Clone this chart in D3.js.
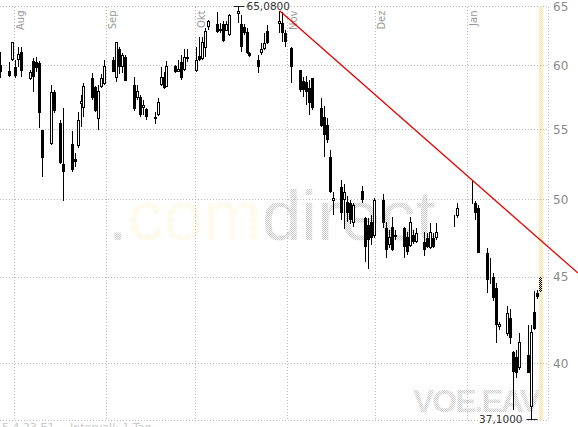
<!DOCTYPE html>
<html><head><meta charset="utf-8">
<script src="https://cdn.jsdelivr.net/npm/d3@7"></script>
<style>html,body{margin:0;padding:0;background:#fff;overflow:hidden}</style>
</head><body><svg id="c" width="578" height="427"></svg>
<script>
const dates = [
"2007-07-27","2007-07-30","2007-07-31","2007-08-01","2007-08-02","2007-08-03","2007-08-06","2007-08-07","2007-08-08","2007-08-09","2007-08-10","2007-08-13","2007-08-14","2007-08-16","2007-08-17","2007-08-20","2007-08-21","2007-08-22","2007-08-23","2007-08-24","2007-08-27","2007-08-28","2007-08-29","2007-08-30","2007-08-31",
"2007-09-03","2007-09-04","2007-09-05","2007-09-06","2007-09-07","2007-09-10","2007-09-11","2007-09-12","2007-09-13","2007-09-14","2007-09-17","2007-09-18","2007-09-19","2007-09-20","2007-09-21","2007-09-24","2007-09-25","2007-09-26","2007-09-27","2007-09-28",
"2007-10-01","2007-10-02","2007-10-03","2007-10-04","2007-10-05","2007-10-08","2007-10-09","2007-10-10","2007-10-11","2007-10-12","2007-10-15","2007-10-16","2007-10-17","2007-10-18","2007-10-19","2007-10-22","2007-10-23","2007-10-24","2007-10-25","2007-10-29","2007-10-30","2007-10-31",
"2007-11-02","2007-11-05","2007-11-06","2007-11-07","2007-11-08","2007-11-09","2007-11-12","2007-11-13","2007-11-14","2007-11-15","2007-11-16","2007-11-19","2007-11-20","2007-11-21","2007-11-22","2007-11-23","2007-11-26","2007-11-27","2007-11-28","2007-11-29","2007-11-30",
"2007-12-03","2007-12-04","2007-12-05","2007-12-06","2007-12-07","2007-12-10","2007-12-11","2007-12-12","2007-12-13","2007-12-14","2007-12-17","2007-12-18","2007-12-19","2007-12-20","2007-12-21","2007-12-27","2007-12-28",
"2008-01-02","2008-01-03","2008-01-04","2008-01-07","2008-01-08","2008-01-09","2008-01-10","2008-01-11","2008-01-14","2008-01-15","2008-01-16","2008-01-17","2008-01-18","2008-01-21","2008-01-22","2008-01-23","2008-01-24","2008-01-25"];

const open = [
60.05,59.58,60.43,59.90,60.43,61.13,58.91,60.37,60.30,60.20,54.96,53.90,57.86,55.46,52.45,53.90,52.81,53.78,56.92,56.61,58.99,58.28,55.76,58.25,58.51,
60.43,58.97,61.34,59.92,60.74,58.44,57.38,57.51,56.61,56.56,55.97,56.10,58.40,59.09,58.30,59.96,59.48,60.29,59.64,60.72,
59.56,60.78,60.57,61.42,63.20,63.48,62.91,63.48,62.91,62.54,64.36,63.48,63.20,62.77,61.04,60.45,61.06,61.34,62.91,63.48,63.54,62.69,
61.48,59.64,58.75,58.69,58.17,58.97,56.61,55.97,55.33,52.99,49.92,50.88,49.97,49.85,49.79,48.46,50.58,48.74,48.30,48.50,47.58,
49.97,48.08,47.00,48.19,47.64,48.08,47.54,46.94,47.64,47.21,47.21,47.43,46.79,47.43,47.43,48.63,48.90,
49.85,49.74,49.41,46.48,45.45,45.02,44.32,42.02,41.62,42.57,40.66,40.38,39.74,40.48,37.72,42.93,44.06,44.93];

const high = [
61.14,60.31,61.99,60.43,61.53,61.57,59.64,60.65,60.70,60.41,54.96,58.44,58.04,55.71,56.63,54.89,53.24,56.35,57.64,58.62,59.37,58.35,58.44,59.32,60.43,
60.74,61.99,61.56,61.04,60.90,59.07,58.44,57.64,57.25,56.63,56.35,57.43,59.90,59.48,60.37,60.05,60.45,60.86,61.34,61.36,
61.53,62.35,62.35,63.14,63.83,64.56,63.57,63.74,63.77,64.36,65.08,64.27,63.48,63.11,61.12,60.86,61.90,62.69,63.40,64.65,64.56,62.97,
61.56,59.64,59.09,59.15,58.83,58.97,57.38,56.78,55.86,53.48,50.49,51.34,51.06,50.23,49.97,49.77,50.93,48.84,48.76,48.96,50.10,
50.38,48.50,47.97,48.85,47.97,48.19,47.84,48.85,47.97,48.08,47.86,47.77,48.41,47.77,48.41,48.96,49.77,
51.34,49.90,49.63,46.79,46.20,45.23,44.65,42.32,43.25,43.07,40.70,40.75,41.70,42.15,42.15,44.18,44.22,45.06];

const low = [
58.97,59.05,60.37,58.99,59.90,59.11,58.83,57.91,59.50,55.11,51.55,53.85,56.25,52.45,49.89,51.93,52.28,53.63,55.17,55.92,57.25,56.33,54.96,58.20,58.47,
59.44,58.70,59.32,59.37,58.75,56.40,57.25,55.94,56.10,55.71,55.41,56.06,58.36,58.09,58.24,59.40,59.44,58.83,59.56,60.29,
59.50,60.37,60.43,60.70,62.97,62.69,62.71,61.98,62.88,62.50,63.54,61.12,62.54,60.98,60.74,59.42,60.86,61.28,61.79,62.71,61.98,61.51,
58.56,57.88,57.51,56.86,56.10,56.48,55.19,52.99,54.00,50.46,48.96,48.63,48.02,48.52,48.37,48.19,49.77,45.94,45.48,47.00,47.45,
48.10,46.17,46.81,46.63,47.32,46.17,46.38,46.88,47.07,47.13,46.31,46.81,46.75,46.81,47.32,48.17,48.74,
49.70,48.63,46.48,44.02,44.60,43.56,41.16,41.87,41.52,41.08,37.55,39.21,39.65,39.49,37.10,41.87,43.68,44.04];

const close = [
59.50,59.18,61.93,59.19,60.97,59.60,59.50,59.11,59.80,56.25,52.90,57.86,56.43,52.52,51.93,52.05,52.64,55.71,57.17,58.35,57.41,56.44,57.96,58.97,59.96,
59.48,61.95,59.90,60.86,58.79,56.56,57.96,56.10,56.86,55.92,55.76,57.07,59.09,58.20,59.96,59.44,59.72,58.99,60.74,60.51,
60.45,60.45,61.98,62.91,63.77,62.77,63.06,62.06,63.48,64.27,64.65,61.56,62.69,61.04,60.82,59.86,61.34,61.90,61.85,63.77,62.71,61.98,
59.90,58.04,58.04,57.91,56.99,56.61,55.26,54.59,54.22,50.53,50.08,49.08,50.53,49.08,48.63,49.63,49.95,46.86,47.32,47.45,49.97,
48.41,46.69,47.54,46.69,47.54,46.90,46.58,48.52,47.21,47.76,46.69,46.90,47.86,46.90,47.86,48.56,49.41,
49.74,49.08,46.48,44.83,45.40,43.72,42.15,42.19,42.83,41.43,39.56,39.47,41.21,39.51,41.74,41.96,43.82,44.12];

const yTicks = [40, 45, 50, 55, 60, 65];
const monthLabels = ["Aug", "Sep", "Okt", "Nov", "Dez", "Jan"];
const trendDates = ["2007-10-29", "2008-01-02"];
const trendValues = [64.65, 51.34];
const extremeDates = ["2007-10-15", "2008-01-22"];
const extremeValues = [65.08, 37.10];
const extremeLabels = ["65,0800", "37,1000"];
const lastDate = "2008-01-25";
const symbolText = "VOE.EAV";
const footerText = "5.4.23 E1";
const footerText2 = "Intervall: 1 Tag";

const svg = d3.select("#c");
const parse = d3.utcParse("%Y-%m-%d");
const DAY = 864e5;
const x = d3.scaleUtc().domain([Date.UTC(2007,7,1), Date.UTC(2008,0,1)]).range([14.3, 467.9]);
const y = d3.scaleLog().domain([37.0, 65.6]).range([421, 0]);
const plotR = 548, plotB = 420.5;
const cx = d => Math.floor(x(+parse(d) + DAY/2));

// patterns
const defs = svg.append("defs");
function checker(id, color) {
  const p = defs.append("pattern").attr("id", id).attr("width", 2).attr("height", 2).attr("patternUnits", "userSpaceOnUse");
  p.append("rect").attr("x",0).attr("y",0).attr("width",1).attr("height",1).attr("fill",color);
  p.append("rect").attr("x",1).attr("y",1).attr("width",1).attr("height",1).attr("fill",color);
}
checker("pg", "#c8c8c8");
checker("py", "#fef7dc");
checker("pb", "#f9df8e");

// watermark
const wm = svg.append("text").attr("x", 108).attr("y", 240)
  .attr("font-family", "Liberation Sans, Arial, sans-serif").attr("font-size", 71);
wm.append("tspan").attr("fill", "url(#pg)").text(".");
wm.append("tspan").attr("fill", "url(#py)").text("com");
wm.append("tspan").attr("fill", "url(#pg)").text("direct");

svg.append("text").attr("x", 413).attr("y", 411.5)
  .attr("font-family", "Liberation Sans, Arial, sans-serif").attr("font-size", 32).attr("font-weight", "bold")
  .attr("letter-spacing", -2).attr("fill", "url(#pg)").text(symbolText);

// grid
const g = svg.append("g").attr("stroke", "#b8b8b8").attr("stroke-dasharray", "1,2").attr("stroke-width", 1).attr("fill", "none");
yTicks.forEach(t => {
  const yy = Math.floor(y(t)) + 0.5;
  g.append("line").attr("x1", 0).attr("x2", plotR).attr("y1", yy).attr("y2", yy);
});
g.append("line").attr("x1", 0).attr("x2", plotR).attr("y1", plotB).attr("y2", plotB);
const months = d3.utcMonth.range(Date.UTC(2007,7,1), Date.UTC(2008,1,1));
months.forEach(m => {
  const xx = Math.floor(x(m)) + 0.5;
  g.append("line").attr("x1", xx).attr("x2", xx).attr("y1", 7).attr("y2", plotB);
});
g.append("line").attr("x1", plotR + 0.5).attr("x2", plotR + 0.5).attr("y1", 7).attr("y2", plotB);

// month labels
months.forEach((m, i) => {
  const xx = Math.floor(x(m)) + 10;
  svg.append("text").attr("transform", `translate(${xx},10.5) rotate(-90)`)
    .attr("text-anchor", "end").attr("font-family", "DejaVu Sans, sans-serif").attr("font-size", 10)
    .attr("fill", "#999").text(monthLabels[i]);
});

// y labels
yTicks.forEach(t => {
  svg.append("text").attr("x", 553).attr("y", y(t)).attr("dy", "0.36em")
    .attr("font-family", "DejaVu Sans, sans-serif").attr("font-size", 12).attr("fill", "#8a8a8a").text(t);
});

// candles
const data = dates.map((d, i) => ({d, o: open[i], h: high[i], l: low[i], c: close[i]}));
const cg = svg.append("g");
data.forEach(k => {
  const c = cx(k.d);
  const yh = Math.round(y(k.h)), yl = Math.round(y(k.l));
  cg.append("line").attr("x1", c + 0.5).attr("x2", c + 0.5).attr("y1", yh).attr("y2", Math.max(yl, yh + 1))
    .attr("stroke", "#000").attr("stroke-width", 1);
  const top = Math.round(y(Math.max(k.o, k.c))), bot = Math.round(y(Math.min(k.o, k.c)));
  cg.append("rect").attr("x", c - 0.5).attr("y", top + 0.5).attr("width", 2).attr("height", Math.max(bot - top - 1, 0))
    .attr("fill", k.c >= k.o ? "#fff" : "#000").attr("stroke", "#000").attr("stroke-width", 1);
});

// last-day band
const lx = cx(lastDate);
svg.append("rect").attr("x", lx - 1).attr("y", 6).attr("width", 4).attr("height", plotB - 6)
  .attr("fill", "url(#pb)");

// trend line
const tp = trendDates.map((d, i) => [x(+parse(d) + DAY/2), y(trendValues[i])]);
const slope = (tp[1][1] - tp[0][1]) / (tp[1][0] - tp[0][0]);
const xEnd = 578;
svg.append("line").attr("x1", tp[0][0]).attr("y1", tp[0][1])
  .attr("x2", xEnd).attr("y2", tp[0][1] + slope * (xEnd - tp[0][0]))
  .attr("stroke", "#e60000").attr("stroke-width", 1.3);

// extreme markers
extremeDates.forEach((d, i) => {
  const c = cx(d) + 0.5, yy = Math.round(y(extremeValues[i])) + 0.5;
  svg.append("line").attr("x1", c - 5).attr("x2", c + 6).attr("y1", yy).attr("y2", yy).attr("stroke", "#222");
  const right = i === 0;
  svg.append("text").attr("x", right ? c + 8 : c - 9).attr("y", yy).attr("dy", "0.36em")
    .attr("text-anchor", right ? "start" : "end")
    .attr("font-family", "DejaVu Sans, sans-serif").attr("font-size", 10.5).attr("fill", "#333")
    .text(extremeLabels[i]);
});

// footer (clipped at bottom, as in the reference)
svg.append("text").attr("x", 2).attr("y", 431).attr("font-family", "DejaVu Sans, sans-serif")
  .attr("font-size", 11).attr("fill", "#c8c8c8").text(footerText);
svg.append("text").attr("x", 70).attr("y", 431).attr("font-family", "DejaVu Sans, sans-serif")
  .attr("font-size", 11).attr("fill", "#c8c8c8").text(footerText2);
</script>
</body></html>
